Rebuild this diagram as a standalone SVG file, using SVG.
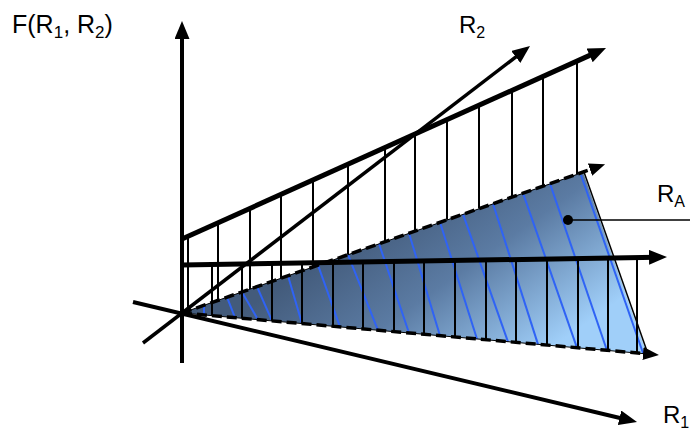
<svg xmlns="http://www.w3.org/2000/svg" width="690" height="431" viewBox="0 0 690 431">
<style>
text{font-family:"Liberation Sans",Arial,sans-serif;font-size:24px;fill:#000}
.sub{font-size:16px}
.ax{stroke:#000;fill:none;marker-end:url(#ah)}
.vk{stroke:#000;stroke-width:2;fill:none}
.bl{stroke:#2f63f5;stroke-width:2;fill:none}
.dash{stroke:#000;stroke-width:3.5;stroke-dasharray:10 5;fill:none}
</style>
<defs>
<marker id="ah" markerUnits="userSpaceOnUse" markerWidth="20" markerHeight="16" refX="8" refY="7.5" orient="auto">
<path d="M0,0 L18,7.5 L0,15 z" fill="#000"/>
</marker>
<marker id="ahs" markerUnits="userSpaceOnUse" markerWidth="18" markerHeight="14" refX="7" refY="6.5" orient="auto">
<path d="M0,0 L16,6.5 L0,13 z" fill="#000"/>
</marker>
<linearGradient id="g" gradientUnits="userSpaceOnUse" x1="400" y1="200" x2="520" y2="370">
<stop offset="0" stop-color="#435b7b"/>
<stop offset="0.45" stop-color="#5b7ba3"/>
<stop offset="1" stop-color="#a0cff9"/>
</linearGradient>
</defs>

<g id="region-RA">
<polygon points="182,313 583,172 647,354" fill="url(#g)"/>
</g>

<g id="hatch-blue">
<line class="bl" x1="204" y1="305.3" x2="204" y2="314.9"/>
<line class="bl" x1="227" y1="297.2" x2="235" y2="317.7"/>
<line class="bl" x1="242" y1="291.9" x2="258" y2="319.7"/>
<line class="bl" x1="257" y1="286.6" x2="272" y2="320.9"/>
<line class="bl" x1="288" y1="275.7" x2="302" y2="323.6"/>
<line class="bl" x1="318" y1="265.2" x2="340" y2="326.9"/>
<line class="bl" x1="348" y1="254.6" x2="378" y2="330.3"/>
<line class="bl" x1="379" y1="243.7" x2="409" y2="333.0"/>
<line class="bl" x1="409" y1="233.2" x2="440" y2="335.8"/>
<line class="bl" x1="440" y1="222.3" x2="477" y2="339.0"/>
<line class="bl" x1="463" y1="214.2" x2="508" y2="341.8"/>
<line class="bl" x1="493" y1="203.7" x2="538" y2="344.4"/>
<line class="bl" x1="523" y1="193.1" x2="577" y2="347.8"/>
<line class="bl" x1="550" y1="183.6" x2="607" y2="350.5"/>
<line class="bl" x1="581" y1="175" x2="643" y2="353"/>
</g>

<g id="hatch-upper">
<line class="vk" x1="188" y1="236.3" x2="188" y2="310.9"/>
<line class="vk" x1="218" y1="222.8" x2="218" y2="300.3"/>
<line class="vk" x1="250" y1="208.4" x2="250" y2="289.1"/>
<line class="vk" x1="281" y1="194.4" x2="281" y2="278.2"/>
<line class="vk" x1="313" y1="180.0" x2="313" y2="266.9"/>
<line class="vk" x1="348" y1="164.2" x2="348" y2="254.6"/>
<line class="vk" x1="385" y1="147.5" x2="385" y2="241.6"/>
<line class="vk" x1="415" y1="134.0" x2="415" y2="231.1"/>
<line class="vk" x1="447" y1="119.6" x2="447" y2="219.8"/>
<line class="vk" x1="479" y1="105.2" x2="479" y2="208.6"/>
<line class="vk" x1="512" y1="90.3" x2="512" y2="197.0"/>
<line class="vk" x1="543" y1="76.4" x2="543" y2="186.1"/>
<line class="vk" x1="577" y1="61.0" x2="577" y2="174.1"/>
</g>

<g id="hatch-lower">
<line class="vk" x1="212" y1="264.5" x2="212" y2="315.6"/>
<line class="vk" x1="242" y1="264.0" x2="242" y2="318.3"/>
<line class="vk" x1="272" y1="263.5" x2="272" y2="320.9"/>
<line class="vk" x1="302" y1="263.0" x2="302" y2="323.6"/>
<line class="vk" x1="333" y1="262.5" x2="333" y2="326.3"/>
<line class="vk" x1="363" y1="262.0" x2="363" y2="329.0"/>
<line class="vk" x1="394" y1="261.5" x2="394" y2="331.7"/>
<line class="vk" x1="424" y1="261.0" x2="424" y2="334.3"/>
<line class="vk" x1="455" y1="260.5" x2="455" y2="337.1"/>
<line class="vk" x1="486" y1="260.0" x2="486" y2="339.8"/>
<line class="vk" x1="516" y1="259.5" x2="516" y2="342.5"/>
<line class="vk" x1="547" y1="259.0" x2="547" y2="345.2"/>
<line class="vk" x1="578" y1="258.5" x2="578" y2="347.9"/>
<line class="vk" x1="608" y1="258.0" x2="608" y2="350.6"/>
<line class="vk" x1="637" y1="257.5" x2="637" y2="353.1"/>
</g>

<g id="connectors">
<line x1="584" y1="172" x2="648" y2="354" stroke="#000" stroke-width="1.5"/>
<line x1="182" y1="313" x2="584" y2="172" stroke="#000" stroke-width="1"/>
<line x1="182" y1="313" x2="648" y2="354" stroke="#000" stroke-width="1"/>
<line class="dash" x1="182" y1="313" x2="596.6" y2="167.3" style="marker-end:url(#ahs)"/>
<line class="dash" x1="182" y1="313" x2="650" y2="354.1" style="marker-end:url(#ahs)"/>
<line class="ax" stroke-width="4" x1="182" y1="363" x2="182" y2="31"/>
<line class="ax" stroke-width="4" x1="133" y1="302" x2="627.3" y2="419.7"/>
<line class="ax" stroke-width="3.5" x1="143" y1="343" x2="522.1" y2="52.1"/>
<line class="ax" stroke-width="5" x1="182" y1="239" x2="596.9" y2="52.1"/>
<line class="ax" stroke-width="5" x1="182" y1="265" x2="657" y2="257.2"/>
<line x1="568" y1="220" x2="690" y2="220" stroke="#000" stroke-width="1.5"/>
<circle cx="568" cy="220" r="5" fill="#000"/>
</g>

<g id="labels">
<text x="12" y="33" style="font-size:25px">F(R<tspan class="sub" style="font-size:17px" dy="5">1</tspan><tspan dy="-5">, R</tspan><tspan class="sub" style="font-size:17px" dy="5">2</tspan><tspan dy="-5">)</tspan></text>
<text x="459" y="33">R<tspan class="sub" dy="5">2</tspan></text>
<text x="663" y="423">R<tspan class="sub" dy="5">1</tspan></text>
<text x="657" y="202">R<tspan class="sub" dy="5">A</tspan></text>
</g>
</svg>
